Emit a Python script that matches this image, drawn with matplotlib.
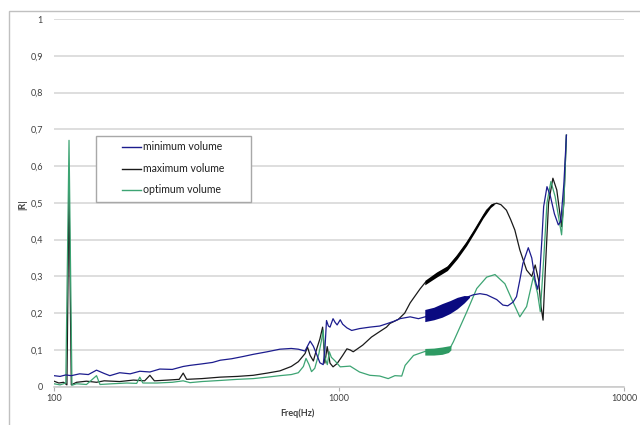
import numpy as np
import matplotlib.pyplot as plt
from matplotlib.lines import Line2D
from matplotlib.patches import Rectangle
from matplotlib.ticker import FixedLocator, FuncFormatter, NullLocator

plt.rcParams['font.family'] = ['Lato', 'DejaVu Sans']

# |R| against frequency for the three volumes
f_min = [100, 105, 110, 115, 123, 132, 141, 150, 157, 170, 185, 200, 217, 235, 260, 284, 300,
         330, 360, 383, 420, 460, 500, 560, 620, 680, 720, 760, 775, 792, 813, 833, 857, 880,
         892, 904, 918, 930, 953, 969, 985, 1010, 1030, 1066, 1108, 1180, 1283, 1390, 1468,
         1560, 1636, 1777, 1900, 2005, 2100, 2250, 2400, 2519, 2700, 2961, 3124, 3297, 3575,
         3760, 3910, 4080, 4197, 4310, 4417, 4615, 4747, 4880, 4974, 5050, 5150, 5225, 5367,
         5510, 5700, 5883, 6000, 6150, 6280]
r_min = [0.030, 0.028, 0.032, 0.030, 0.035, 0.033, 0.045, 0.036, 0.030, 0.038, 0.035, 0.042,
         0.040, 0.048, 0.047, 0.055, 0.058, 0.062, 0.066, 0.072, 0.076, 0.082, 0.088, 0.095,
         0.102, 0.104, 0.102, 0.097, 0.110, 0.124, 0.110, 0.090, 0.065, 0.060, 0.100, 0.180,
         0.165, 0.162, 0.185, 0.175, 0.168, 0.182, 0.170, 0.160, 0.153, 0.158, 0.162, 0.165,
         0.171, 0.178, 0.185, 0.190, 0.185, 0.190, 0.196, 0.205, 0.215, 0.225, 0.238, 0.250,
         0.253, 0.250, 0.237, 0.222, 0.220, 0.230, 0.245, 0.290, 0.335, 0.378, 0.350, 0.290,
         0.265, 0.290, 0.400, 0.490, 0.544, 0.520, 0.470, 0.440, 0.450, 0.550, 0.684]

f_max = [100, 104, 108, 111, 112.9, 115, 120, 130, 141, 150, 170, 190, 208, 217, 225, 250, 275,
         284, 292, 330, 383, 440, 500, 560, 620, 680, 720, 760, 775, 792, 813, 833, 857, 876,
         892, 909, 930, 953, 985, 1030, 1066, 1094, 1122, 1211, 1300, 1390, 1468, 1509, 1614,
         1700, 1777, 1925, 2005, 2262, 2388, 2589, 2800, 2961, 3124, 3297, 3450, 3575, 3700,
         3868, 4000, 4140, 4310, 4553, 4747, 4880, 5015, 5115, 5200, 5295, 5437, 5630, 5810,
         6040, 6150, 6280]
r_max = [0.015, 0.010, 0.012, 0.005, 0.545, 0.005, 0.012, 0.015, 0.012, 0.016, 0.014, 0.018,
         0.016, 0.031, 0.016, 0.018, 0.020, 0.037, 0.020, 0.022, 0.026, 0.028, 0.031, 0.037,
         0.043, 0.055, 0.068, 0.090, 0.108, 0.085, 0.070, 0.100, 0.130, 0.162, 0.064, 0.109,
         0.064, 0.054, 0.063, 0.085, 0.103, 0.100, 0.095, 0.113, 0.135, 0.150, 0.162, 0.172,
         0.183, 0.200, 0.228, 0.266, 0.283, 0.308, 0.321, 0.354, 0.390, 0.420, 0.450, 0.480,
         0.495, 0.499, 0.495, 0.480, 0.455, 0.426, 0.372, 0.317, 0.300, 0.331, 0.290, 0.218,
         0.181, 0.317, 0.500, 0.567, 0.535, 0.435, 0.500, 0.684]

f_opt = [100, 105, 110, 112.9, 115.6, 120, 130, 141, 145, 160, 180, 195, 200, 205, 230, 260,
         284, 300, 330, 383, 440, 500, 560, 620, 680, 720, 750, 766, 785, 801, 822, 850, 870,
         880, 892, 910, 925, 940, 969, 1010, 1094, 1180, 1283, 1390, 1488, 1571, 1660, 1706,
         1826, 2005, 2250, 2453, 2519, 2806, 3043, 3297, 3527, 3820, 4080, 4310, 4553, 4812,
         4974, 5085, 5225, 5367, 5540, 5733, 6040, 6150, 6280]
r_opt = [0.008, 0.005, 0.010, 0.670, 0.004, 0.008, 0.006, 0.030, 0.006, 0.008, 0.010, 0.009,
         0.026, 0.010, 0.010, 0.012, 0.016, 0.011, 0.014, 0.017, 0.020, 0.022, 0.026, 0.030,
         0.033, 0.038, 0.055, 0.077, 0.060, 0.041, 0.050, 0.090, 0.130, 0.154, 0.080, 0.060,
         0.095, 0.080, 0.070, 0.054, 0.056, 0.040, 0.031, 0.029, 0.022, 0.030, 0.029, 0.058,
         0.085, 0.096, 0.097, 0.105, 0.122, 0.203, 0.267, 0.298, 0.305, 0.280, 0.230, 0.190,
         0.218, 0.300, 0.254, 0.204, 0.345, 0.500, 0.558, 0.517, 0.413, 0.500, 0.684]

# spread of the noisy stretches (lower / upper edge)
band_min_f = [2000, 2150, 2300, 2450, 2600, 2750, 2870]
band_min_lo = [0.177, 0.182, 0.189, 0.199, 0.212, 0.228, 0.243]
band_min_hi = [0.210, 0.216, 0.226, 0.234, 0.243, 0.248, 0.247]

band_max_f = [2000, 2200, 2400, 2600, 2800, 3000, 3200, 3400, 3500]
band_max_lo = [0.277, 0.298, 0.316, 0.348, 0.383, 0.421, 0.458, 0.487, 0.495]
band_max_hi = [0.289, 0.312, 0.329, 0.360, 0.395, 0.432, 0.469, 0.496, 0.500]

band_opt_f = [2000, 2150, 2300, 2420, 2470]
band_opt_lo = [0.086, 0.086, 0.088, 0.093, 0.100]
band_opt_hi = [0.104, 0.105, 0.108, 0.111, 0.112]

labels = ['minimum volume', 'maximum volume', 'optimum volume']
colors = ['#1c1c8e', '#1a1a1a', '#3da473']

fig = plt.figure(figsize=(6.4, 4.25), dpi=100)
ax = fig.add_axes([54 / 640, 1 - 386.7 / 425, 570 / 640, 367.7 / 425])

ax.plot(f_max, r_max, color=colors[1], lw=0.9, zorder=3)
ax.plot(f_opt, r_opt, color=colors[2], lw=0.9, zorder=4)
ax.plot(f_min, r_min, color=colors[0], lw=0.9, zorder=5)
ax.fill_between(band_max_f, band_max_lo, band_max_hi, color='#000000', lw=0, zorder=3)
ax.fill_between(band_opt_f, band_opt_lo, band_opt_hi, color='#2e9a63', lw=0, zorder=4)
ax.fill_between(band_min_f, band_min_lo, band_min_hi, color='#0a0a80', lw=0, zorder=5)

ax.set_xscale('log')
ax.set_xlim(100, 10000)
ax.set_ylim(0, 1)
ax.xaxis.set_major_locator(FixedLocator([100, 1000, 10000]))
ax.xaxis.set_minor_locator(NullLocator())
ax.xaxis.set_major_formatter(FuncFormatter(lambda v, p: '%d' % v))
ax.yaxis.set_major_locator(FixedLocator(np.arange(0, 1.01, 0.1)))
ax.yaxis.set_major_formatter(FuncFormatter(lambda v, p: ('%g' % round(v, 1)).replace('.', ',')))
ax.tick_params(axis='x', length=3, width=0.8, color='#b0b0b0', labelsize=6.5,
               labelcolor='#404040', pad=2.5)
ax.tick_params(axis='y', length=0, labelsize=6.5, labelcolor='#404040', pad=8)
ax.grid(axis='y', color='#d4d4d4', lw=1.1)
ax.set_axisbelow(True)
for side in ['left', 'top', 'right']:
    ax.spines[side].set_visible(False)
ax.spines['bottom'].set_color('#c8c8c8')
ax.spines['bottom'].set_linewidth(1.1)

fig.text(297 / 640, 1 - 413 / 425, 'Freq(Hz)', ha='center', va='center',
         fontsize=6.5, fontweight='bold', color='#404040')
fig.text(23 / 640, 1 - 205 / 425, '|R|', ha='center', va='center', rotation=90,
         fontsize=6.5, fontweight='bold', color='#404040')

# outer chart frame
fig.add_artist(Rectangle((9 / 640, -0.1), 1.1, 1.1 - 11 / 425, transform=fig.transFigure,
                         fill=False, edgecolor='#c0c0c0', lw=1))

# legend box
fig.add_artist(Rectangle((96 / 640, 1 - 202 / 425), 155 / 640, 66 / 425,
                         transform=fig.transFigure, facecolor='white',
                         edgecolor='#a8a8a8', lw=1, zorder=6))
for i, (lab, col) in enumerate(zip(labels, colors)):
    yy = 1 - (147 + 21.5 * i) / 425
    fig.add_artist(Line2D([122 / 640, 141 / 640], [yy, yy], color=col, lw=1,
                          transform=fig.transFigure, zorder=7))
    fig.text(143 / 640, yy, lab, ha='left', va='center', fontsize=7.6,
             color='#202020', zorder=7)

fig.savefig('out.png', dpi=100)
